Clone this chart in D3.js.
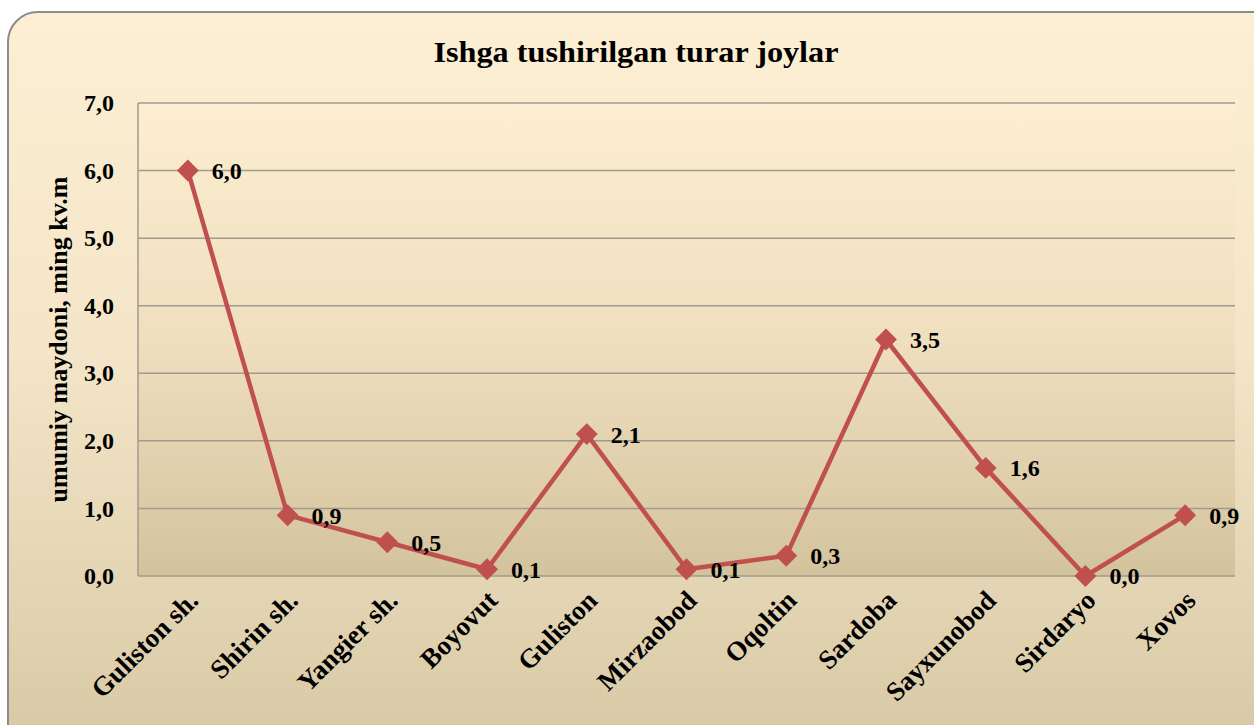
<!DOCTYPE html>
<html>
<head>
<meta charset="utf-8">
<script src="https://cdn.jsdelivr.net/npm/d3@7"></script>
<style>
  body { margin: 0; background: #fff; }
  text { font-family: "Liberation Serif", "Times New Roman", serif; font-weight: bold; fill: #000; }
</style>
</head>
<body>
<div id="chart"></div>
<script>
// data
var categories = ['Guliston sh.', 'Shirin sh.', 'Yangier sh.', 'Boyovut', 'Guliston',
  'Mirzaobod', 'Oqoltin', 'Sardoba', 'Sayxunobod', 'Sirdaryo', 'Xovos'];
var values = [6.0, 0.9, 0.5, 0.1, 2.1, 0.1, 0.3, 3.5, 1.6, 0.0, 0.9];
var yTicks = [0, 1, 2, 3, 4, 5, 6, 7];

var width = 1254, height = 725;
var margin = { top: 103, right: 19, bottom: 149, left: 138 };

var fmt = function(d) { return d3.format('.1f')(d).replace('.', ','); };

var svg = d3.select('#chart')
  .append('svg')
  .attr('width', width)
  .attr('height', height);

var defs = svg.append('defs');

var bgGrad = defs.append('linearGradient')
  .attr('id', 'bg').attr('x1', 0).attr('y1', 0).attr('x2', 0).attr('y2', 1);
bgGrad.append('stop').attr('offset', '0%').attr('stop-color', '#fdefd3');
bgGrad.append('stop').attr('offset', '45%').attr('stop-color', '#f4e5c8');
bgGrad.append('stop').attr('offset', '100%').attr('stop-color', '#d6c7a3');

var plotGrad = defs.append('linearGradient')
  .attr('id', 'plotbg').attr('x1', 0).attr('y1', 0).attr('x2', 0).attr('y2', 1);
plotGrad.append('stop').attr('offset', '0%').attr('stop-color', '#fdeed1');
plotGrad.append('stop').attr('offset', '50%').attr('stop-color', '#efdfbf');
plotGrad.append('stop').attr('offset', '100%').attr('stop-color', '#d3c39d');

// chart frame (runs off the right and bottom edges)
svg.append('rect')
  .attr('x', 8).attr('y', 12)
  .attr('width', 1290).attr('height', 760)
  .attr('rx', 30).attr('ry', 30)
  .attr('fill', 'url(#bg)')
  .attr('stroke', '#8c8c8c')
  .attr('stroke-width', 2);

var innerW = width - margin.left - margin.right,
  innerH = height - margin.top - margin.bottom;

var g = svg.append('g')
  .attr('transform', 'translate(' + margin.left + ',' + margin.top + ')');

var xScale = d3.scaleBand()
  .domain(categories)
  .range([0, innerW]);

var yScale = d3.scaleLinear()
  .domain([0, 7])
  .range([innerH, 0]);

g.append('rect')
  .attr('width', innerW)
  .attr('height', innerH)
  .attr('fill', 'url(#plotbg)');

// gridlines
g.selectAll('.grid')
  .data(yTicks)
  .enter()
  .append('line')
  .attr('x1', 0).attr('x2', innerW)
  .attr('y1', function(d) { return yScale(d); })
  .attr('y2', function(d) { return yScale(d); })
  .attr('stroke', '#a09a90')
  .attr('stroke-width', 1.5);

g.append('line')
  .attr('x1', 0).attr('x2', 0)
  .attr('y1', 0).attr('y2', innerH)
  .attr('stroke', '#a09a90')
  .attr('stroke-width', 1.5);

// y axis
var yAxis = g.append('g')
  .call(d3.axisLeft(yScale)
    .tickValues(yTicks)
    .tickSize(0)
    .tickPadding(24)
    .tickFormat(fmt));
yAxis.select('.domain').remove();
yAxis.selectAll('text')
  .style('font-size', '24px')
  .attr('dy', '0.32em');

// x axis
var xAxis = g.append('g')
  .attr('transform', 'translate(0,' + innerH + ')')
  .call(d3.axisBottom(xScale).tickSize(0).tickPadding(0));
xAxis.select('.domain').remove();
xAxis.selectAll('text')
  .style('font-size', '27px')
  .attr('text-anchor', 'end')
  .attr('dy', 0)
  .attr('transform', 'translate(12,26) rotate(-45)');

// line
var line = d3.line()
  .x(function(d, i) { return xScale(categories[i]) + xScale.bandwidth() / 2; })
  .y(function(d) { return yScale(d); });

g.append('path')
  .datum(values)
  .attr('fill', 'none')
  .attr('stroke', '#c0504d')
  .attr('stroke-width', 4.5)
  .attr('stroke-linejoin', 'round')
  .attr('d', line);

var diamond = d3.symbol().type(d3.symbolSquare).size(240);

g.selectAll('.marker')
  .data(values)
  .enter()
  .append('path')
  .attr('d', diamond)
  .attr('fill', '#c0504d')
  .attr('transform', function(d, i) {
    return 'translate(' + (xScale(categories[i]) + xScale.bandwidth() / 2) + ',' + yScale(d) + ') rotate(45)';
  });

// data labels
g.selectAll('.label')
  .data(values)
  .enter()
  .append('text')
  .attr('x', function(d, i) { return xScale(categories[i]) + xScale.bandwidth() / 2 + 24; })
  .attr('y', function(d) { return yScale(d); })
  .attr('dy', '0.35em')
  .style('font-size', '24px')
  .text(fmt);

// titles
svg.append('text')
  .attr('x', 636)
  .attr('y', 62)
  .attr('text-anchor', 'middle')
  .attr('textLength', 405)
  .attr('lengthAdjust', 'spacingAndGlyphs')
  .style('font-size', '30px')
  .text('Ishga tushirilgan turar joylar');

svg.append('text')
  .attr('transform', 'translate(67,' + (margin.top + innerH / 2) + ') rotate(-90)')
  .attr('text-anchor', 'middle')
  .style('font-size', '26px')
  .text('umumiy maydoni, ming kv.m');
</script>
</body>
</html>
